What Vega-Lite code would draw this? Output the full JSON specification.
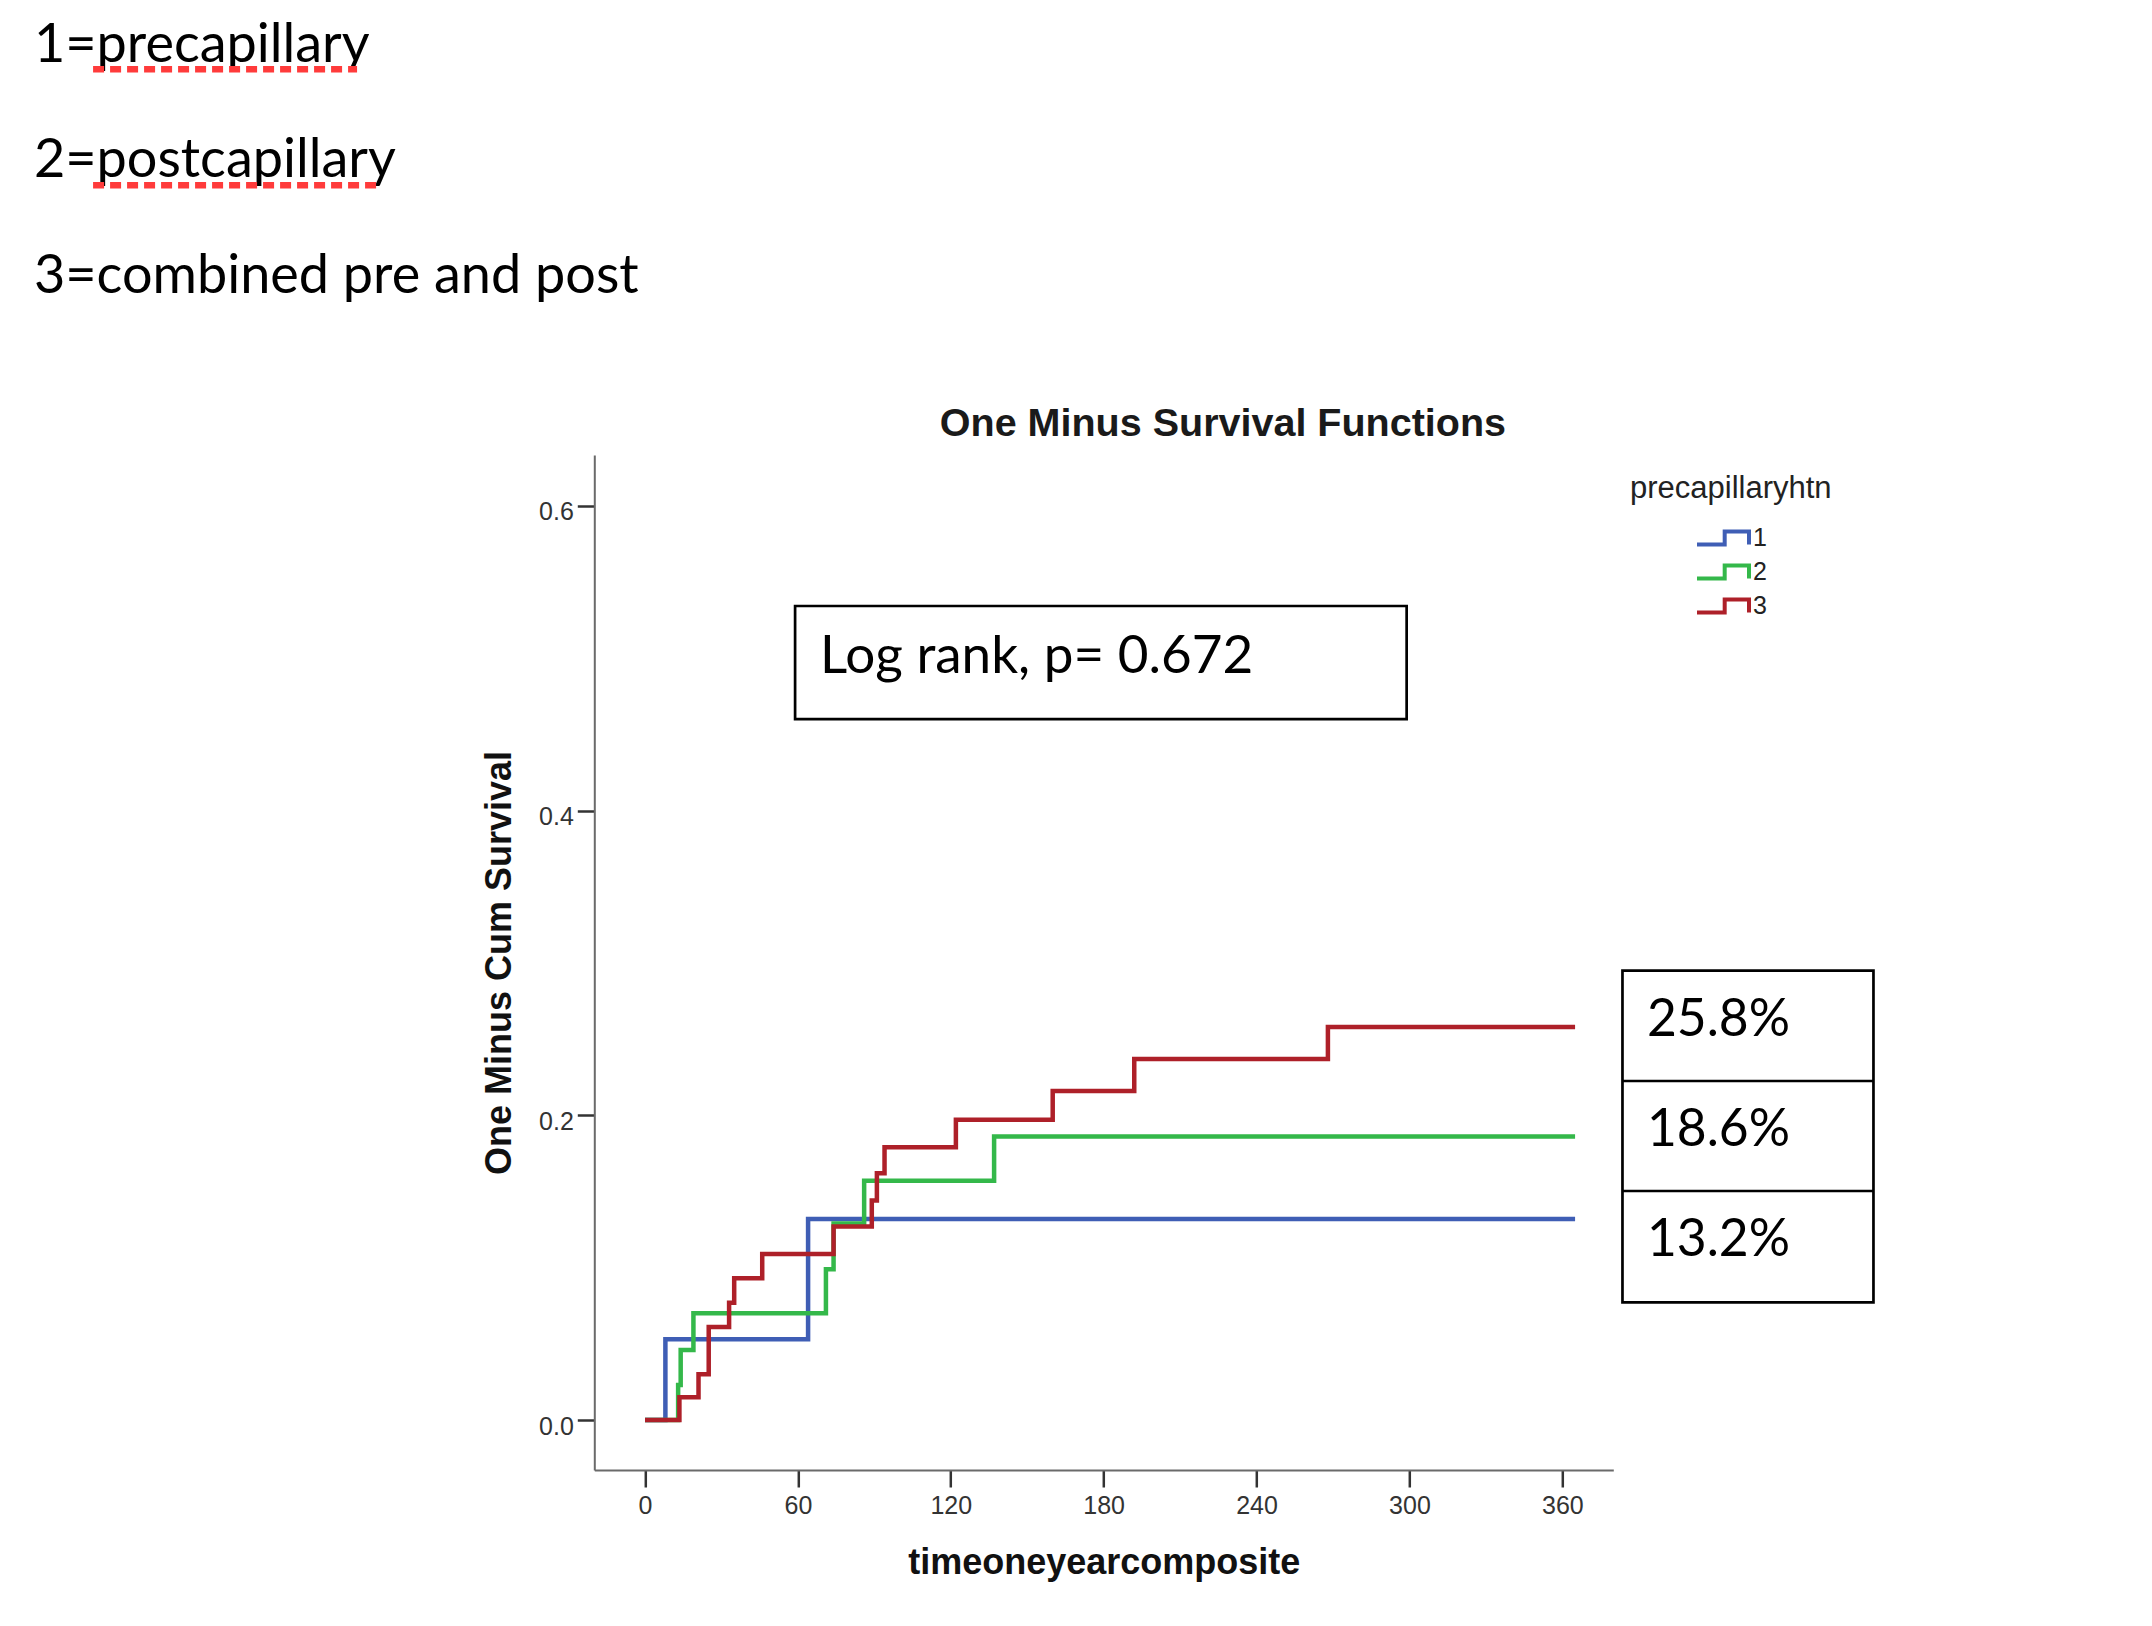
{
  "$schema": "https://vega.github.io/schema/vega-lite/v6.json",
  "width": 1019,
  "height": 1015,
  "autosize": {"type": "none"},
  "padding": {"left": 594.3, "top": 455, "right": 538.7, "bottom": 156},
  "background": "white",
  "config": {"view": {"stroke": null}},
  "datasets": {
    "km": [
      {"precapillaryhtn": "1", "time": 0, "cumEvent": 0},
      {"precapillaryhtn": "1", "time": 8, "cumEvent": 0.053},
      {"precapillaryhtn": "1", "time": 64, "cumEvent": 0.132},
      {"precapillaryhtn": "1", "time": 365, "cumEvent": 0.132},
      {"precapillaryhtn": "2", "time": 0, "cumEvent": 0},
      {"precapillaryhtn": "2", "time": 13, "cumEvent": 0.023},
      {"precapillaryhtn": "2", "time": 14, "cumEvent": 0.046},
      {"precapillaryhtn": "2", "time": 19, "cumEvent": 0.070},
      {"precapillaryhtn": "2", "time": 71, "cumEvent": 0.099},
      {"precapillaryhtn": "2", "time": 74, "cumEvent": 0.129},
      {"precapillaryhtn": "2", "time": 86, "cumEvent": 0.157},
      {"precapillaryhtn": "2", "time": 137, "cumEvent": 0.186},
      {"precapillaryhtn": "2", "time": 365, "cumEvent": 0.186},
      {"precapillaryhtn": "3", "time": 0, "cumEvent": 0},
      {"precapillaryhtn": "3", "time": 13.5, "cumEvent": 0.015},
      {"precapillaryhtn": "3", "time": 21, "cumEvent": 0.030},
      {"precapillaryhtn": "3", "time": 25, "cumEvent": 0.061},
      {"precapillaryhtn": "3", "time": 33, "cumEvent": 0.077},
      {"precapillaryhtn": "3", "time": 35, "cumEvent": 0.093},
      {"precapillaryhtn": "3", "time": 46, "cumEvent": 0.109},
      {"precapillaryhtn": "3", "time": 74, "cumEvent": 0.127},
      {"precapillaryhtn": "3", "time": 89, "cumEvent": 0.144},
      {"precapillaryhtn": "3", "time": 91, "cumEvent": 0.162},
      {"precapillaryhtn": "3", "time": 94, "cumEvent": 0.179},
      {"precapillaryhtn": "3", "time": 122, "cumEvent": 0.197},
      {"precapillaryhtn": "3", "time": 160, "cumEvent": 0.216},
      {"precapillaryhtn": "3", "time": 192, "cumEvent": 0.237},
      {"precapillaryhtn": "3", "time": 268, "cumEvent": 0.258},
      {"precapillaryhtn": "3", "time": 365, "cumEvent": 0.258}
    ]
  },
  "layer": [
    {
      "data": {"name": "km"},
      "mark": {"type": "line", "interpolate": "step-after", "strokeWidth": 4.5},
      "encoding": {
        "x": {
          "field": "time", "type": "quantitative",
          "scale": {"domain": [-19.9, 380], "nice": false, "zero": false},
          "axis": {
            "title": "timeoneyearcomposite",
            "values": [0, 60, 120, 180, 240, 300, 360],
            "grid": false, "labelFlush": false, "labelOverlap": false,
            "labelFont": "Liberation Sans", "labelFontSize": 25, "labelColor": "#333333", "labelPadding": 6,
            "tickSize": 17, "tickWidth": 2.5, "tickColor": "#333333",
            "domainColor": "#6a6a6a", "domainWidth": 2,
            "titleFont": "Liberation Sans", "titleFontSize": 36, "titleFontWeight": "bold", "titleColor": "#111111", "titlePadding": 27.6
          }
        },
        "y": {
          "field": "cumEvent", "type": "quantitative",
          "scale": {"domain": [-0.0328, 0.6333], "nice": false, "zero": false},
          "axis": {
            "title": "One Minus Cum Survival",
            "values": [0, 0.2, 0.4, 0.6], "format": ".1f",
            "grid": false, "labelFlush": false, "labelOverlap": false,
            "labelFont": "Liberation Sans", "labelFontSize": 25, "labelColor": "#333333", "labelPadding": 4, "labelOffset": 6,
            "tickSize": 17, "tickWidth": 2.5, "tickColor": "#333333",
            "domainColor": "#6a6a6a", "domainWidth": 2,
            "titleFont": "Liberation Sans", "titleFontSize": 36, "titleFontWeight": "bold", "titleColor": "#111111", "titlePadding": 20
          }
        },
        "color": {
          "field": "precapillaryhtn", "type": "nominal",
          "scale": {"domain": ["1", "2", "3"], "range": ["#3F5EB5", "#34B84A", "#AE2029"]},
          "legend": {
            "orient": "none", "legendX": 1035.7, "legendY": 19,
            "title": "precapillaryhtn", "titleFont": "Liberation Sans", "titleFontSize": 31, "titleFontWeight": "normal", "titleColor": "#222222", "titlePadding": 18, "titleLimit": 500,
            "labelFont": "Liberation Sans", "labelFontSize": 25, "labelColor": "#222222", "labelOffset": 15,
            "symbolType": "M-2,0.5H0.13V-0.5H2V0.5", "symbolSize": 676, "symbolStrokeWidth": 4, "symbolOffset": 78,
            "rowPadding": 4
          }
        }
      }
    },
    {
      "data": {"values": [{"note": "1=precapillary\n2=postcapillary\n3=combined pre and post"}]},
      "mark": {"type": "text", "font": "Lato", "fontSize": 54, "align": "left", "baseline": "alphabetic", "lineBreak": "\n", "lineHeight": 115.6, "color": "#000000"},
      "encoding": {
        "x": {"datum": -239.8, "type": "quantitative"},
        "y": {"datum": 0.8915, "type": "quantitative"},
        "text": {"field": "note"}
      }
    },
    {
      "data": {"values": [{"word": "precapillary"}]},
      "mark": {"type": "rule", "color": "#FF3B3B", "strokeWidth": 6.5, "strokeDash": [11, 6]},
      "encoding": {
        "x": {"datum": -216.6, "type": "quantitative"},
        "x2": {"datum": -113.0},
        "y": {"datum": 0.8865, "type": "quantitative"}
      }
    },
    {
      "data": {"values": [{"word": "postcapillary"}]},
      "mark": {"type": "rule", "color": "#FF3B3B", "strokeWidth": 6.5, "strokeDash": [11, 6]},
      "encoding": {
        "x": {"datum": -216.6, "type": "quantitative"},
        "x2": {"datum": -105.5},
        "y": {"datum": 0.8103, "type": "quantitative"}
      }
    },
    {
      "data": {"values": [{"title": "One Minus Survival Functions"}]},
      "mark": {"type": "text", "font": "Liberation Sans", "fontWeight": "bold", "fontSize": 39.5, "align": "center", "baseline": "alphabetic", "color": "#1a1a1a"},
      "encoding": {
        "x": {"datum": 226.8, "type": "quantitative"},
        "y": {"datum": 0.6458, "type": "quantitative"},
        "text": {"field": "title"}
      }
    },
    {
      "data": {"values": [{"box": "logrank"}]},
      "mark": {"type": "rect", "fill": "white", "stroke": "#000000", "strokeWidth": 2.7},
      "encoding": {
        "x": {"datum": 58.9, "type": "quantitative"},
        "x2": {"datum": 298.9},
        "y": {"datum": 0.5342, "type": "quantitative"},
        "y2": {"datum": 0.460}
      }
    },
    {
      "data": {"values": [{"note": "Log rank, p= 0.672"}]},
      "mark": {"type": "text", "font": "Lato", "fontSize": 53, "align": "left", "baseline": "alphabetic", "color": "#000000"},
      "encoding": {
        "x": {"datum": 68.7, "type": "quantitative"},
        "y": {"datum": 0.4904, "type": "quantitative"},
        "text": {"field": "note"}
      }
    },
    {
      "data": {"values": [{"box": "percent"}]},
      "mark": {"type": "rect", "fill": "white", "stroke": "#000000", "strokeWidth": 2.7},
      "encoding": {
        "x": {"datum": 383.6, "type": "quantitative"},
        "x2": {"datum": 482.1},
        "y": {"datum": 0.2949, "type": "quantitative"},
        "y2": {"datum": 0.0772}
      }
    },
    {
      "data": {"values": [{"divider": "a"}]},
      "mark": {"type": "rule", "color": "#000000", "strokeWidth": 2.7},
      "encoding": {
        "x": {"datum": 383.6, "type": "quantitative"},
        "x2": {"datum": 482.1},
        "y": {"datum": 0.2225, "type": "quantitative"}
      }
    },
    {
      "data": {"values": [{"divider": "b"}]},
      "mark": {"type": "rule", "color": "#000000", "strokeWidth": 2.7},
      "encoding": {
        "x": {"datum": 383.6, "type": "quantitative"},
        "x2": {"datum": 482.1},
        "y": {"datum": 0.1503, "type": "quantitative"}
      }
    },
    {
      "data": {"values": [{"pct": "25.8%"}]},
      "mark": {"type": "text", "font": "Lato", "fontSize": 51.5, "align": "left", "baseline": "alphabetic", "color": "#000000"},
      "encoding": {
        "x": {"datum": 393.2, "type": "quantitative"},
        "y": {"datum": 0.2522, "type": "quantitative"},
        "text": {"field": "pct"}
      }
    },
    {
      "data": {"values": [{"pct": "18.6%"}]},
      "mark": {"type": "text", "font": "Lato", "fontSize": 51.5, "align": "left", "baseline": "alphabetic", "color": "#000000"},
      "encoding": {
        "x": {"datum": 393.2, "type": "quantitative"},
        "y": {"datum": 0.1798, "type": "quantitative"},
        "text": {"field": "pct"}
      }
    },
    {
      "data": {"values": [{"pct": "13.2%"}]},
      "mark": {"type": "text", "font": "Lato", "fontSize": 51.5, "align": "left", "baseline": "alphabetic", "color": "#000000"},
      "encoding": {
        "x": {"datum": 393.2, "type": "quantitative"},
        "y": {"datum": 0.1074, "type": "quantitative"},
        "text": {"field": "pct"}
      }
    }
  ]
}
